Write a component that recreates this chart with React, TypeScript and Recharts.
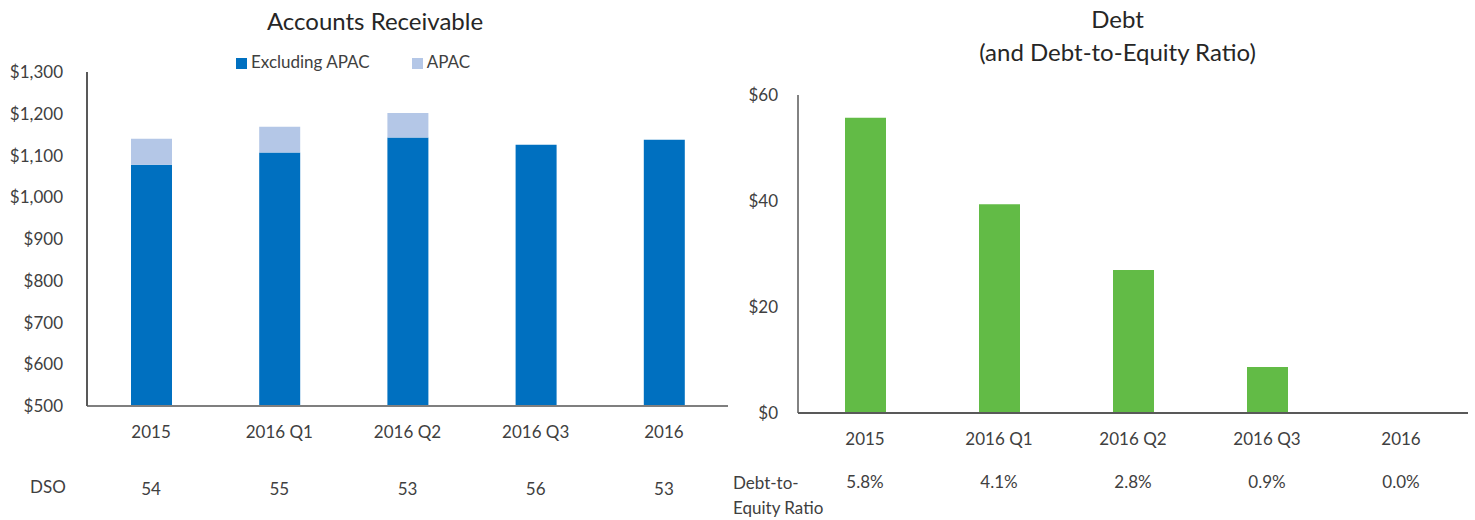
import { Bar, BarChart, Legend, XAxis, YAxis } from 'recharts'

const categories = ['2015', '2016 Q1', '2016 Q2', '2016 Q3', '2016']
const arExclApac = [1078, 1107, 1143, 1126, 1138]
const arApac = [62, 62, 59, 0, 0]
const dso = [54, 55, 53, 56, 53]
const arTicks = [500, 600, 700, 800, 900, 1000, 1100, 1200, 1300]

const debt = [55.7, 39.4, 27.0, 8.7, 0]
const debtToEquity = ['5.8%', '4.1%', '2.8%', '0.9%', '0.0%']
const debtTicks = [0, 20, 40, 60]

const FONT = 'Lato, "Open Sans", sans-serif'
const TEXT = '#404040'
const BLUE = '#0070c0'
const LIGHT_BLUE = '#b4c7e7'
const GREEN = '#62bb46'
const LEGEND_ORDER = ['Excluding APAC', 'APAC']

const arData = categories.map((c, i) => ({ name: c, excl: arExclApac[i], apac: arApac[i], dso: dso[i] }))
const debtData = categories.map((c, i) => ({ name: c, debt: debt[i], ratio: debtToEquity[i] }))

const tick = { fill: TEXT, fontSize: 17, fontFamily: FONT }

export default function App() {
  return (
    <div style={{ position: 'relative', width: 1475, height: 520, background: '#fff', fontFamily: FONT, color: TEXT }}>
      <style>{'body{margin:0}'}</style>

      {/* left: accounts receivable */}
      <div style={{ position: 'absolute', left: 0, top: 6, width: 750, textAlign: 'center', fontSize: 24, color: '#262626' }}>
        Accounts Receivable
      </div>
      <div style={{ position: 'absolute', left: 0, top: 0 }}>
        <BarChart width={735} height={520} data={arData} margin={{ top: 51, right: 7, bottom: 14, left: 0 }}>
          <XAxis dataKey="name" tick={tick} tickLine={false} axisLine={{ stroke: '#7f7f7f', strokeWidth: 2 }} height={40} tickMargin={14} />
          <XAxis xAxisId="dso" dataKey="dso" tick={tick} tickLine={false} axisLine={false} height={60} tickMargin={31} />
          <YAxis
            width={87}
            domain={[500, 1300]}
            ticks={arTicks}
            allowDataOverflow
            tick={tick}
            tickLine={false}
            axisLine={{ stroke: '#595959', strokeWidth: 2 }}
            tickMargin={18}
            tickFormatter={(v: number) => '$' + v.toLocaleString('en-US')}
          />
          <Legend
            verticalAlign="top"
            align="left"
            iconType="square"
            iconSize={11}
            itemSorter={(item: { value: string }) => LEGEND_ORDER.indexOf(item.value)}
            wrapperStyle={{ top: 51, left: 236, width: 320, fontSize: 17, fontFamily: FONT }}
            formatter={(v: string) => <span style={{ color: TEXT, marginRight: 32 }}>{v}</span>}
          />
          <Bar dataKey="excl" name="Excluding APAC" stackId="a" fill={BLUE} barSize={41} isAnimationActive={false} />
          <Bar dataKey="apac" name="APAC" stackId="a" fill={LIGHT_BLUE} barSize={41} isAnimationActive={false} />
        </BarChart>
      </div>
      <div style={{ position: 'absolute', left: 30, top: 476, fontSize: 17 }}>DSO</div>

      {/* right: debt */}
      <div style={{ position: 'absolute', left: 760, top: 2, width: 715, textAlign: 'center', fontSize: 24, lineHeight: '33px', color: '#262626' }}>
        Debt
        <br />
        (and Debt-to-Equity Ratio)
      </div>
      <div style={{ position: 'absolute', left: 720, top: 0 }}>
        <BarChart width={755} height={520} data={debtData} margin={{ top: 95, right: 7, bottom: 7, left: 0 }}>
          <XAxis dataKey="name" tick={tick} tickLine={false} axisLine={{ stroke: '#595959', strokeWidth: 2 }} height={40} tickMargin={14} />
          <XAxis xAxisId="ratio" dataKey="ratio" tick={tick} tickLine={false} axisLine={false} height={60} tickMargin={17} />
          <YAxis
            width={78}
            domain={[0, 60]}
            ticks={debtTicks}
            tick={tick}
            tickLine={false}
            axisLine={{ stroke: '#595959', strokeWidth: 1.5 }}
            tickMargin={14}
            tickFormatter={(v: number) => '$' + v}
          />
          <Bar dataKey="debt" fill={GREEN} barSize={41} isAnimationActive={false} />
        </BarChart>
      </div>
      <div style={{ position: 'absolute', left: 733, top: 470, fontSize: 17, lineHeight: '25px' }}>
        Debt-to-
        <br />
        Equity Ratio
      </div>
    </div>
  )
}
